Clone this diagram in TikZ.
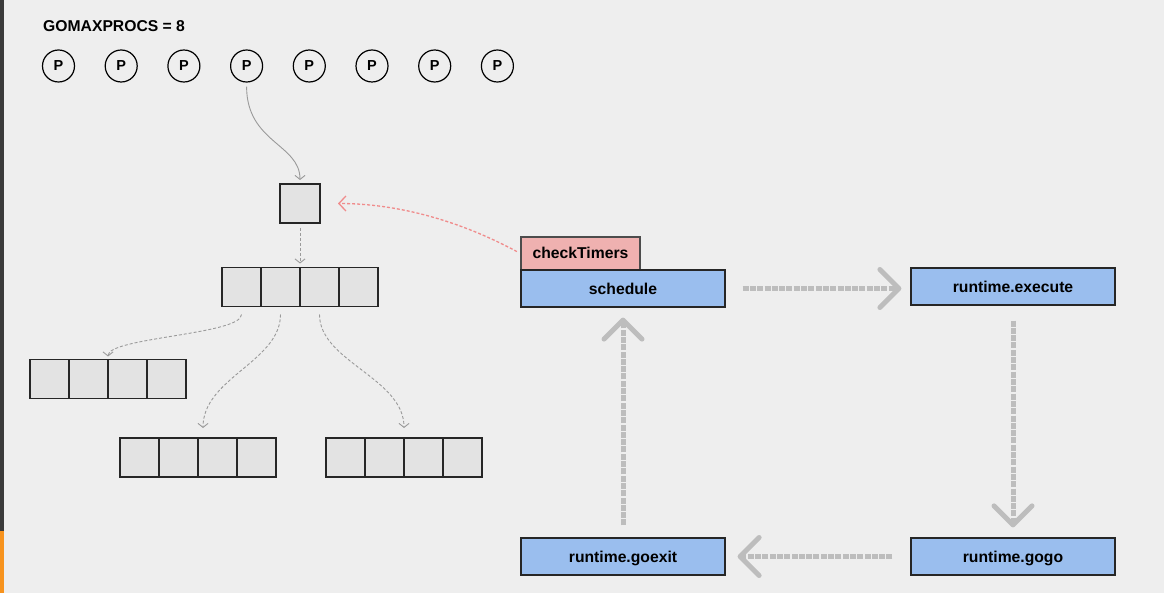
\documentclass[tikz,border=0pt]{standalone}
\usepackage{fontspec}
\setmainfont{Liberation Sans}
\usetikzlibrary{arrows.meta,calc}

\definecolor{pagebg}{HTML}{EEEEEE}
\definecolor{sidebar}{HTML}{3A3A3A}
\definecolor{sideaccent}{HTML}{F7931E}
\definecolor{cellfill}{HTML}{E3E3E3}
\definecolor{fnblue}{HTML}{9ABEEE}
\definecolor{fnpink}{HTML}{EFB1B0}
\definecolor{linkgray}{HTML}{9A9A9A}
\definecolor{flowgray}{HTML}{BDBDBD}
\definecolor{timerred}{HTML}{F08C8C}

\begin{document}
\begin{tikzpicture}[x=1pt,y=-1pt,
  labelfont/.style={font=\bfseries\fontsize{15.7}{18}\selectfont},
  proc/.style={circle, draw=black, line width=1.2pt, minimum size=32pt, inner sep=0pt,
               font=\bfseries\fontsize{14.5}{16}\selectfont},
  cell/.style={rectangle, draw=black!85, fill=cellfill, line width=1.1pt,
               minimum width=39pt, minimum height=39pt, inner sep=0pt, outer sep=0pt},
  fnbox/.style={rectangle, draw=black!85, fill=fnblue, line width=1.2pt,
                minimum width=204pt, minimum height=37pt, inner sep=0pt,
                text height=12pt, text depth=0pt, labelfont},
  timerbox/.style={rectangle, draw=black!70, fill=fnpink, line width=1.1pt,
                minimum width=119pt, minimum height=33pt, inner sep=0pt,
                text height=11pt, text depth=0pt, labelfont},
  link/.style={draw=linkgray, line width=0.9pt, -{Straight Barb[length=4pt,width=10pt]}},
  dashedlink/.style={link, dash pattern=on 3pt off 2pt},
  timerlink/.style={draw=timerred, line width=1.3pt, dash pattern=on 3pt off 2pt,
                -{Straight Barb[length=7pt,width=15pt]}},
  flow/.style={draw=flowgray, line width=5pt, dash pattern=on 6pt off 1.3pt,
               -{Straight Barb[length=19pt,width=38pt,round]}}
]
% page background and side strip
\fill[pagebg] (0,0) rectangle (1164,593);
\fill[sidebar] (0,0) rectangle (4,531);
\fill[sideaccent] (0,531) rectangle (4,593);

% processor count and the Ps
\node[labelfont, anchor=base west, inner sep=0pt] (title) at (43,32) {GOMAXPROCS = 8};
\foreach \i in {1,...,8} {
  \node[proc] (p\i) at ({58.5+62.7*(\i-1)},66) {P};
}

% single slot
\node[cell, minimum width=40pt] (slot) at (300,203.5) {};

% top array
\foreach \i in {1,...,4} {
  \node[cell] (top\i) at ({222+19.5+39*(\i-1)},287) {};
}
% lower arrays
\foreach \i in {1,...,4} {
  \node[cell] (ra\i) at ({30+19.5+39*(\i-1)},379) {};
  \node[cell] (rb\i) at ({120+19.5+39*(\i-1)},457.5) {};
  \node[cell] (rc\i) at ({326+19.5+39*(\i-1)},457.5) {};
}

% function boxes
\node[timerbox] (timers) at (580.5,253.5) {checkTimers};
\node[fnbox] (schedule) at (623,288.5) {schedule};
\node[fnbox] (execute) at (1013,286.5) {runtime.execute};
\node[fnbox] (gogo) at (1013,556.5) {runtime.gogo};
\node[fnbox] (goexit) at (623,556.5) {runtime.goexit};

% connectors on the left
\draw[link, shorten <=4pt, shorten >=4pt]
  (p4.south) .. controls +(0,60) and +(0,-40) .. (slot.north);
\draw[dashedlink, shorten <=5pt, shorten >=4pt] (slot.south) -- (top3.north west);
\draw[dashedlink, shorten <=8pt, shorten >=3pt]
  (top1.south) .. controls +(0,28) and +(0,-22) .. (ra2.north east);
\draw[dashedlink, shorten <=8pt, shorten >=10pt]
  (top2.south) .. controls +(0,55) and +(0,-60) .. ($(rb2.north east)+(5,0)$);
\draw[dashedlink, shorten <=8pt, shorten >=10pt]
  (top3.south) .. controls +(0,55) and +(0,-60) .. (rc2.north east);
\draw[timerlink, shorten <=4pt, shorten >=18pt]
  (timers.west) .. controls (462,222) and (400,203.5) .. (slot.east);

% scheduling loop
\draw[flow, shorten <=17pt, shorten >=9pt] (schedule.east) -- (schedule.east -| execute.west);
\draw[flow, shorten <=15pt, shorten >=10pt] (execute.south) -- (gogo.north);
\draw[flow, shorten <=18pt, shorten >=12pt] (gogo.west) -- (goexit.east);
\draw[flow, shorten <=12pt, shorten >=10pt] (goexit.north) -- (schedule.south);
\end{tikzpicture}
\end{document}
